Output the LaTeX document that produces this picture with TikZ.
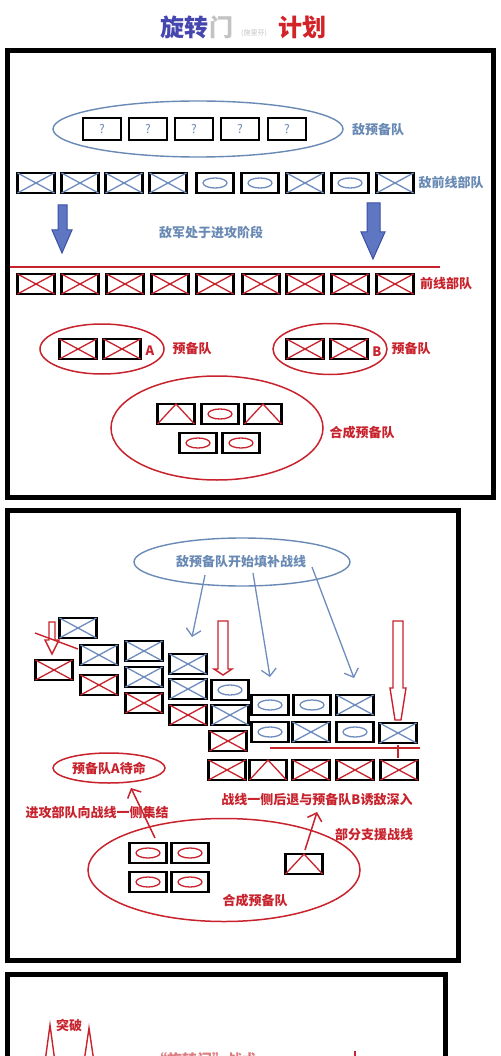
\documentclass[tikz,border=0pt]{standalone}
\usepackage{fontspec}
\setmainfont{Noto Sans CJK SC}
\usetikzlibrary{shapes.geometric,arrows.meta}
\definecolor{sblue}{RGB}{105,138,180}
\definecolor{xblue}{RGB}{110,140,190}
\definecolor{ared}{RGB}{200,35,45}
\definecolor{tblue}{RGB}{70,70,175}
\definecolor{tgray}{RGB}{195,195,195}
\definecolor{tred}{RGB}{210,35,40}
\definecolor{afill}{RGB}{95,118,195}
\definecolor{aline}{RGB}{60,80,165}
\tikzset{
 ubox/.style={draw=black, line width=2.2pt, minimum width=37pt, minimum height=20pt, inner sep=0pt, outer sep=0pt},
 sym/.style={line width=1.3pt},
 frame/.style={draw=black, line width=5pt},
 bl/.style={text=sblue, font=\bfseries\fontsize{13}{15}\selectfont, inner sep=0pt},
 rl/.style={text=ared, font=\bfseries\fontsize{13}{15}\selectfont, inner sep=0pt},
 bell/.style={draw=sblue, line width=1.4pt, ellipse, inner sep=0pt},
 rell/.style={draw=ared, line width=1.5pt, ellipse, inner sep=0pt},
 blockarrow/.style={fill=afill, draw=aline, line width=1pt},
 hollow/.style={draw=ared, line width=1.4pt, fill=white},
 barrow/.style={draw=xblue, line width=1.3pt, -{Straight Barb[length=7pt,width=15pt]}},
 rarrow/.style={draw=ared, line width=1.5pt, -{Straight Barb[length=7pt,width=15pt]}},
}
\newcommand\UX[3]{\node[ubox] (#1) at (#2) {}; \draw[#3,sym] (#1.north west)--(#1.south east) (#1.north east)--(#1.south west);}
\newcommand\UO[3]{\node[ubox] (#1) at (#2) {}; \draw[#3,sym] (#1.center) ellipse [x radius=12pt,y radius=5pt];}
\newcommand\UT[3]{\node[ubox] (#1) at (#2) {}; \draw[#3,sym] (#1.south west)--(#1.north)--(#1.south east);}
\begin{document}
\begin{tikzpicture}[x=1pt,y=-1pt]
\useasboundingbox (0,0) rectangle (500,1056);
\clip (0,0) rectangle (500,1056);
\fill[white] (0,0) rectangle (500,1056);
% title
\node[font=\bfseries\fontsize{24}{26}\selectfont, text=tblue, inner sep=0pt] (t1) at (184,27) {旋转};
\node[font=\bfseries\fontsize{24}{26}\selectfont, text=tgray, inner sep=0pt] (t2) at (221,27) {门};
\node[font=\fontsize{7}{8}\selectfont, text=tgray, inner sep=0pt] (t3) at (254,33) {(施里芬)};
\node[font=\bfseries\fontsize{24}{26}\selectfont, text=tred, inner sep=0pt] (t4) at (302,27) {计划};
% ================= panel 1
\draw[frame] (7,50.5) rectangle (493.5,497.5);
\node[bell, minimum width=290pt, minimum height=56pt] (er) at (198,129) {};
\foreach \i/\x in {1/102,2/148,3/194,4/240,5/287}{
  \node[ubox, minimum width=38pt, minimum height=22pt, text=sblue, font=\fontsize{12}{14}\selectfont] (q\i) at (\x,129) {?};
}
\node[bl] (lr) at (378,130) {敌预备队};
\UX{f1}{36,183}{xblue}
\UX{f2}{80,183}{xblue}
\UX{f3}{124,183}{xblue}
\UX{f4}{168,183}{xblue}
\UO{f5}{215,183}{xblue}
\UO{f6}{260,183}{xblue}
\UX{f7}{305,183}{xblue}
\UO{f8}{350,183}{xblue}
\UX{f9}{395,183}{xblue}
\node[bl] (lf) at (451,183) {敌前线部队};
\draw[blockarrow] (58,205) -- (67,205) -- (67,230) -- (72,230) -- (62,253) -- (52,230) -- (58,230) -- cycle;
\draw[blockarrow] (367,203) -- (380,203) -- (380,232) -- (385,232) -- (373,259) -- (361,232) -- (367,232) -- cycle;
\node[bl] (la) at (211,233) {敌军处于进攻阶段};
\coordinate (l1a) at (10,267);
\coordinate (l1b) at (440,267);
\draw[ared, line width=1.4pt] (l1a) -- (l1b);
\foreach \i/\x in {1/36,2/80,3/125,4/170,5/215,6/261,7/305,8/350,9/395}{
  \UX{p\i}{\x,284}{ared}
}
\node[rl] (lp) at (446,284) {前线部队};
\node[rell, minimum width=124pt, minimum height=50pt] (ea) at (102,349) {};
\UX{a1}{78,349}{ared}
\UX{a2}{122,349}{ared}
\node[rl] (lA) at (150,351) {A};
\node[rl] (lpa) at (192,349) {预备队};
\node[rell, minimum width=114pt, minimum height=51pt] (eb) at (330,349) {};
\UX{b1}{305,349}{ared}
\UX{b2}{349,349}{ared}
\node[rl] (lB) at (377,352) {B};
\node[rl] (lpb) at (411,349) {预备队};
\node[rell, minimum width=212pt, minimum height=104pt] (ec) at (217,428) {};
\UT{c1}{176,414}{ared}
\UO{c2}{220,414}{ared}
\UT{c3}{263,414}{ared}
\UO{c4}{198,443}{ared}
\UO{c5}{241,443}{ared}
\node[rl] (lc) at (362,433) {合成预备队};
% ================= panel 2
\draw[frame] (7.5,510) rectangle (458,960.5);
\node[bell, minimum width=216pt, minimum height=48pt] (e2) at (242,562) {};
\node[bl] (l2) at (241,562) {敌预备队开始填补战线};
\coordinate (s1) at (205,575); \coordinate (d1) at (192,637);
\coordinate (s2) at (253,573); \coordinate (d2) at (270,677);
\coordinate (s3) at (312,567); \coordinate (d3) at (354,678);
\draw[barrow] (s1) -- (d1);
\draw[barrow] (s2) -- (d2);
\draw[barrow] (s3) -- (d3);
% hollow red arrows
\draw[hollow] (49,622) -- (55,622) -- (55,640) -- (59,640) -- (52,654) -- (45,640) -- (49,640) -- cycle;
\coordinate (sl1) at (35,633); \coordinate (sl2) at (78,649);
\draw[ared, line width=1.4pt] (sl1) -- (sl2);
\draw[hollow] (218,621) -- (228,621) -- (228,669) -- (232,669) -- (223,675) -- (214,669) -- (218,669) -- cycle;
\draw[hollow] (393,621) -- (403,621) -- (403,688) -- (406,688) -- (401,720) -- (395,720) -- (390,688) -- (393,688) -- cycle;
% boxes
\UX{g1}{78,628}{xblue}
\UX{g2}{99,655}{xblue}
\UX{g3}{144,651}{xblue}
\UX{g4}{144,677}{xblue}
\UX{g5}{188,664}{xblue}
\UX{g6}{188,689}{xblue}
\UO{g7}{230,690}{xblue}
\UX{g8}{230,715}{xblue}
\UO{g9}{270,705}{xblue}
\UO{g10}{312,705}{xblue}
\UX{g11}{355,705}{xblue}
\UO{g12}{270,732}{xblue}
\UX{g13}{311,732}{xblue}
\UO{g14}{355,732}{xblue}
\UX{g15}{398,733}{xblue}
\UX{h1}{54,670}{ared}
\UX{h2}{99,685}{ared}
\UX{h3}{144,703}{ared}
\UX{h4}{188,715}{ared}
\UX{h5}{228,741}{ared}
\UX{h6}{227,770}{ared}
\UT{h7}{268,770}{ared}
\UX{h8}{311,770}{ared}
\UX{h9}{355,770}{ared}
\UX{h10}{399,770}{ared}
\coordinate (l2a) at (270,748); \coordinate (l2b) at (420,748);
\draw[ared, line width=1.4pt] (l2a) -- (l2b);
\coordinate (tk1) at (398,745); \coordinate (tk2) at (398,758);
\draw[ared, line width=1.8pt] (tk1) -- (tk2);
\node[rell, minimum width=112pt, minimum height=30pt] (eA) at (109,768) {};
\node[rl] (lA2) at (109,768) {预备队A待命};
\node[rl] (lg) at (97,813) {进攻部队向战线一侧集结};
\node[rl] (lb2) at (317,800) {战线一侧后退与预备队B诱敌深入};
\node[rl] (ls) at (374,835) {部分支援战线};
\node[rell, minimum width=272pt, minimum height=103pt] (ec2) at (224,870) {};
\UO{k1}{148,853}{ared}
\UO{k2}{190,853}{ared}
\UO{k3}{148,882}{ared}
\UO{k4}{190,882}{ared}
\UT{k5}{304,864}{ared}
\node[rl] (lc2) at (255,901) {合成预备队};
\coordinate (ra1) at (155,838); \coordinate (ra2) at (131,788);
\draw[rarrow] (ra1) -- (ra2);
\coordinate (rb1) at (305,850); \coordinate (rb2) at (317,812);
\draw[rarrow] (rb1) -- (rb2);
% ================= panel 3
\draw[frame] (7.5,974.5) rectangle (445.5,1080);
\node[rl] (lt) at (69,1025) {突破};
\draw[hollow] (45,1062) -- (50,1025) -- (55,1062);
\draw[hollow] (84,1062) -- (89,1028) -- (94,1062);
\coordinate (m1) at (355,1051); \coordinate (m2) at (355,1058);
\draw[ared, line width=2pt] (m1) -- (m2);
\node[anchor=north west, inner sep=0pt, text=ared!60, font=\bfseries\fontsize{15}{17}\selectfont] (lz) at (152,1052) {“旋转门”战术};
\end{tikzpicture}
\end{document}
